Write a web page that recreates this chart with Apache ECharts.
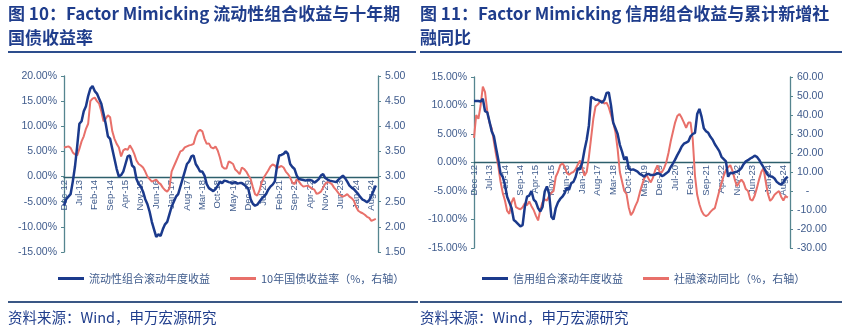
<!DOCTYPE html>
<html>
<head>
<meta charset="utf-8">
<script src="https://cdn.jsdelivr.net/npm/echarts@6/dist/echarts.min.js"></script>
<style>
html,body{margin:0;padding:0;background:#fff;}
#c{width:845px;height:328px;}
</style>
</head>
<body>
<div id="c"></div>
<script>
// ---------- DATA ----------
const startYear = 2012, startMonth = 11; // Dec-12 (0-based month)
const monthCount = 144;                  // Dec-12 .. Nov-24
const monthNames = ['Jan','Feb','Mar','Apr','May','Jun','Jul','Aug','Sep','Oct','Nov','Dec'];

// Fig 10: liquidity portfolio rolling annual return (%)
const liquidityReturn = [
 -5.8,-4.5,-4.0,-3.5,-1.0,2.0,6.0,10.5,11.0,13.0,14.0,16.0,17.5,18.0,17.0,16.5,15.5,14.5,12.5,10.5,
 8.0,7.5,5.5,3.5,1.5,0.0,0.3,1.0,2.5,4.0,4.2,2.2,1.8,-0.5,-1.5,-2.0,-3.0,-4.5,-5.5,-7.0,
 -9.0,-10.5,-12.0,-11.5,-11.8,-10.5,-9.5,-9.0,-7.5,-6.0,-5.0,-4.0,-3.5,-2.0,-0.5,1.0,2.5,3.0,4.0,4.2,
 2.5,1.8,1.0,1.0,0.2,-1.5,-2.3,-2.6,-2.9,-2.5,-1.8,-1.0,-1.3,-0.8,-0.9,-1.1,-1.2,-1.3,-1.1,-1.4,
 -1.3,-1.3,-1.6,-2.0,-2.5,-4.5,-5.4,-5.8,-5.6,-5.0,-4.4,-4.0,-3.5,-2.6,-2.0,-1.6,-1.0,2.0,4.2,4.3,
 4.5,5.0,4.5,2.5,1.9,1.5,0.2,-0.5,-0.6,-0.7,-0.8,-0.7,-0.7,-0.8,-1.2,-0.9,-0.5,0.2,0.5,-0.3,
 -0.6,-0.8,-0.9,-1.0,-1.1,-0.6,-0.2,0.2,-0.3,-1.0,-1.8,-2.2,-2.5,-3.0,-3.5,-4.1,-4.6,-4.8,-5.1,-4.7,
 -3.8,-2.8,-1.8
];
// Fig 10: 10Y government bond yield (%, right axis)
const bondYield10Y = [
 3.58,3.59,3.60,3.57,3.48,3.44,3.42,3.55,3.70,3.80,3.95,4.05,4.50,4.55,4.57,4.50,4.45,4.30,4.10,4.15,
 4.22,4.18,3.90,3.75,3.65,3.58,3.40,3.52,3.55,3.53,3.62,3.55,3.45,3.32,3.25,3.22,3.18,3.10,3.00,2.95,
 2.90,2.92,2.94,2.88,2.85,2.78,2.73,2.70,2.76,3.10,3.20,3.30,3.40,3.50,3.52,3.58,3.60,3.62,3.63,3.65,
 3.80,3.90,3.93,3.90,3.75,3.65,3.66,3.58,3.56,3.60,3.52,3.38,3.20,3.16,3.16,3.30,3.28,3.25,3.14,3.10,
 3.05,3.18,3.15,3.10,3.02,2.95,2.79,2.65,2.62,2.72,2.88,2.98,3.05,3.12,3.20,3.24,3.22,3.17,3.19,3.21,
 3.18,3.10,3.05,2.98,2.88,2.85,2.95,2.90,2.84,2.80,2.81,2.82,2.79,2.76,2.74,2.66,2.67,2.70,2.78,2.86,
 2.89,2.88,2.85,2.78,2.73,2.67,2.62,2.60,2.62,2.65,2.60,2.57,2.52,2.40,2.32,2.29,2.27,2.24,2.20,2.18,
 2.12,2.14,2.16
];
// Fig 11: credit portfolio rolling annual return (%)
const creditReturn = [
 10.8,10.8,10.8,10.7,11.2,9.0,8.8,7.2,5.5,4.6,2.5,0.5,-1.9,-2.5,-3.9,-6.0,-7.0,-8.0,-10.1,-10.4,
 -10.8,-11.2,-11.0,-7.8,-6.0,-5.8,-5.0,-6.5,-6.9,-8.0,-8.6,-7.8,-5.1,-4.2,-5.5,-9.5,-10.0,-8.0,-7.0,-6.4,
 -6.0,-5.4,-4.4,-4.8,-3.6,-3.4,-2.5,-1.0,-1.2,0.0,2.2,4.0,6.5,11.5,11.3,11.0,11.0,10.8,10.5,11.0,
 12.2,12.3,10.0,7.0,6.0,5.0,3.1,1.9,0.5,1.0,-1.0,-1.3,-1.2,-1.4,-1.6,-2.0,-2.2,-2.5,-2.1,-2.0,
 -2.2,-2.2,-2.1,-1.9,-2.0,-2.4,-2.2,-1.9,-1.6,-0.8,-0.2,0.5,1.3,2.0,2.8,3.3,3.5,3.7,4.6,5.0,
 5.2,8.5,9.4,8.0,6.0,5.5,5.2,4.5,4.0,3.2,2.6,2.0,1.0,0.6,0.2,-2.5,-1.8,-1.9,-1.7,-1.6,
 -1.4,-1.0,-0.3,0.2,0.4,0.7,0.9,1.2,1.0,0.5,-0.2,-0.8,-1.5,-2.2,-2.4,-2.5,-2.8,-3.4,-3.7,-3.9,
 -3.5,-2.8,-2.5
];
// Fig 11: total social financing rolling YoY (%, right axis)
const tsfYoY = [
 28,40,38,45,55,52,42,36,33,26,19,13,5,-1,-5,-10.5,-12,-6,-3.5,-8.5,
 -9.2,-9.6,-8.5,-6.5,-7.5,-5.5,-8,-10,-13,-15.5,-10,-6,-4.4,-5,-2.6,-1,0,7.5,10,13.5,
 14.5,13,9.5,8.5,9.5,10,11.5,14,16,12,8,10,18,28,38,44.5,45.5,47,47.5,46,
 46.5,44,40,36,31,22,10,5,0,-1.5,-8.5,-12.8,-11,-8,-5.5,-1,3,6.5,8.5,6.5,
 4.5,7,11,13.5,10,9.8,12,15,20,26,31,36,39.5,40.5,38.5,36,33.3,36,36,27,
 8,-2,-7,-10.5,-12.5,-13.2,-12.5,-11,-9.8,-9,-4.5,0,4,8,11,12.5,13.6,10.5,6,2.5,
 4.5,6,4.4,1,0,-4.4,-5,-2.5,1.5,6,10,12,5,-1.5,-5.2,-4,-2,-0.9,0,-3,
 -5,-2.6,-3.5
];

const leftTitle1 = '图 10：Factor Mimicking 流动性组合收益与十年期';
const leftTitle2 = '国债收益率';
const rightTitle1 = '图 11：Factor Mimicking 信用组合收益与累计新增社';
const rightTitle2 = '融同比';
const sourceText = '资料来源：Wind，申万宏源研究';
const seriesNames = ['流动性组合滚动年度收益','10年国债收益率（%，右轴）','信用组合滚动年度收益','社融滚动同比（%，右轴）'];

// ---------- BUILD ----------
const categories = [];
for (let i = 0; i < monthCount; i++) {
  const t = startMonth + i;
  const y = startYear + Math.floor(t / 12);
  categories.push(monthNames[t % 12] + '-' + String(y % 100).padStart(2, '0'));
}

const NAVY = '#1b3a8c';
const RED = '#e8706a';
const LBL = '#3f5b8c';
const AX = '#55858f';
const ZERO = '#2d5f6c';
const TITLE = '#1f3d8c';
const FONT = '"Liberation Sans", Arial, "Noto Sans CJK SC", sans-serif';
const CJK = '"Noto Sans CJK SC", "Liberation Sans", sans-serif';

// x axis sits on the 0 line of the left y axis: offset = distance from grid bottom to zero
function xAxisCfg(gridIndex, offset) {
  return {
    type: 'category', gridIndex, data: categories, boundaryGap: false,
    position: 'bottom', offset: offset,
    axisLine: { onZero: false, lineStyle: { color: ZERO, width: 1.3 } },
    axisTick: { show: false },
    axisLabel: { interval: 6, rotate: 90, fontSize: 9.5, color: LBL, fontFamily: FONT, margin: 3 },
    splitLine: { show: false }
  };
}
function yAxisCfg(gridIndex, pos, min, max, interval, fmt) {
  return {
    type: 'value', gridIndex, position: pos, min, max, interval,
    axisLine: { show: true, lineStyle: { color: AX, width: 1.3 } },
    axisTick: { show: true, length: 3, lineStyle: { color: AX } },
    axisLabel: { fontSize: 10.5, color: LBL, fontFamily: FONT, margin: 7, formatter: fmt },
    splitLine: { show: false }
  };
}
const pct = v => v.toFixed(2) + '%';
const num = v => v.toFixed(2);
const numDash = v => (v === 0 ? '   -' : v.toFixed(2));

// grid geometry
const g1 = { left: 64, top: 76, width: 314, height: 176 };   // -15..20 => zero at 20/35
const g2 = { left: 474, top: 77, width: 316, height: 171 };  // -15..15 => zero at middle
const off1 = -Math.round(g1.height * 15 / 35);
const off2 = -Math.round(g2.height * 15 / 30);

const chart = echarts.init(document.getElementById('c'), null, { renderer: 'canvas' });
chart.setOption({
  animation: false,
  backgroundColor: '#ffffff',
  grid: [ Object.assign({ containLabel: false }, g1), Object.assign({ containLabel: false }, g2) ],
  xAxis: [xAxisCfg(0, off1), xAxisCfg(1, off2)],
  yAxis: [
    yAxisCfg(0, 'left', -15, 20, 5, pct),
    yAxisCfg(0, 'right', 1.5, 5, 0.5, num),
    yAxisCfg(1, 'left', -15, 15, 5, pct),
    yAxisCfg(1, 'right', -30, 60, 10, numDash)
  ],
  legend: [
    { left: 53, top: 268, icon: 'rect', itemWidth: 26, itemHeight: 3, itemGap: 20,
      textStyle: { fontSize: 11, color: LBL, fontFamily: CJK }, data: [seriesNames[0], seriesNames[1]] },
    { left: 477, top: 268, icon: 'rect', itemWidth: 26, itemHeight: 3, itemGap: 20,
      textStyle: { fontSize: 11, color: LBL, fontFamily: CJK }, data: [seriesNames[2], seriesNames[3]] }
  ],
  series: [
    { name: seriesNames[0], type: 'line', xAxisIndex: 0, yAxisIndex: 0, data: liquidityReturn,
      showSymbol: false, lineStyle: { color: NAVY, width: 2.5 }, itemStyle: { color: NAVY }, z: 3 },
    { name: seriesNames[1], type: 'line', xAxisIndex: 0, yAxisIndex: 1, data: bondYield10Y,
      showSymbol: false, lineStyle: { color: RED, width: 2 }, itemStyle: { color: RED }, z: 2 },
    { name: seriesNames[2], type: 'line', xAxisIndex: 1, yAxisIndex: 2, data: creditReturn,
      showSymbol: false, lineStyle: { color: NAVY, width: 2.5 }, itemStyle: { color: NAVY }, z: 3 },
    { name: seriesNames[3], type: 'line', xAxisIndex: 1, yAxisIndex: 3, data: tsfYoY,
      showSymbol: false, lineStyle: { color: RED, width: 2 }, itemStyle: { color: RED }, z: 2 }
  ],
  graphic: [
    { type: 'text', left: 8, top: 5, style: { text: leftTitle1, font: 'bold 17px ' + CJK, fill: TITLE } },
    { type: 'text', left: 8, top: 29, style: { text: leftTitle2, font: 'bold 17px ' + CJK, fill: TITLE } },
    { type: 'text', left: 420, top: 5, style: { text: rightTitle1, font: 'bold 17px ' + CJK, fill: TITLE } },
    { type: 'text', left: 420, top: 29, style: { text: rightTitle2, font: 'bold 17px ' + CJK, fill: TITLE } },
    { type: 'rect', shape: { x: 8, y: 51, width: 408, height: 2 }, style: { fill: '#2d4d8d' } },
    { type: 'rect', shape: { x: 420, y: 51, width: 422, height: 2 }, style: { fill: '#2d4d8d' } },
    { type: 'rect', shape: { x: 8, y: 301, width: 410, height: 2 }, style: { fill: '#3a5785' } },
    { type: 'rect', shape: { x: 420, y: 301, width: 422, height: 2 }, style: { fill: '#3a5785' } },
    { type: 'text', left: 8, top: 310, style: { text: sourceText, font: '14.5px ' + CJK, fill: TITLE } },
    { type: 'text', left: 420, top: 310, style: { text: sourceText, font: '14.5px ' + CJK, fill: TITLE } }
  ]
});
</script>
</body>
</html>
